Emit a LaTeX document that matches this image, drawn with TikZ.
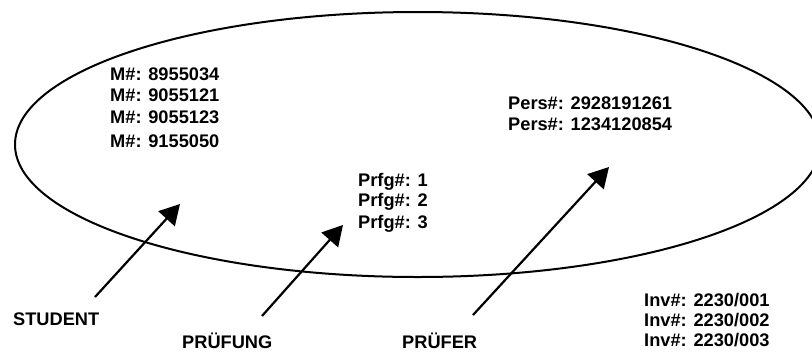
\documentclass[tikz,border=0pt]{standalone}
\usepackage{fontspec}
\setmainfont{Liberation Sans}
\usetikzlibrary{arrows.meta}
\begin{document}
\begin{tikzpicture}[x=1bp,y=-1bp,
  lbl/.style={anchor=base west,inner sep=0pt,font=\fontsize{18.3}{20}\selectfont\bfseries},
  pointer/.style={line width=2.2bp,-{Triangle[length=20bp,width=22bp]}},
  outline/.style={line width=2bp}]
\useasboundingbox (0,0) rectangle (812,351);
\clip (0,0) rectangle (812,351);
\draw[outline] (417.7,144.5) ellipse [x radius=402.7, y radius=132.5];
% student ids
\node[lbl] (m1) at (110,80.5) {M\#: 8955034};
\node[lbl] (m2) at (110,101.5) {M\#: 9055121};
\node[lbl] (m3) at (110,123) {M\#: 9055123};
\node[lbl] (m4) at (110,147) {M\#: 9155050};
% exam ids
\node[lbl] (p1) at (358,186.7) {Prfg\#: 1};
\node[lbl] (p2) at (358,206.7) {Prfg\#: 2};
\node[lbl] (p3) at (358,228) {Prfg\#: 3};
% examiner ids
\node[lbl] (e1) at (508,109) {Pers\#: 2928191261};
\node[lbl] (e2) at (508,130) {Pers\#: 1234120854};
% inv
\node[lbl] (i1) at (644,306.2) {Inv\#: 2230/001};
\node[lbl] (i2) at (644,326.2) {Inv\#: 2230/002};
\node[lbl] (i3) at (644,346.2) {Inv\#: 2230/003};
% labels
\node[lbl] (student) at (13,325) {STUDENT};
\node[lbl] (pruefung) at (182,348) {PRÜFUNG};
\node[lbl] (pruefer) at (402,348) {PRÜFER};
% arrows
\coordinate (sTail) at (95,297);
\coordinate (sTip) at (180,204);
\coordinate (pTail) at (262,316);
\coordinate (pTip) at (343,225);
\coordinate (eTail) at (473,315);
\coordinate (eTip) at (609,167);
\draw[pointer] (sTail) -- (sTip);
\draw[pointer] (pTail) -- (pTip);
\draw[pointer] (eTail) -- (eTip);
\end{tikzpicture}
\end{document}
